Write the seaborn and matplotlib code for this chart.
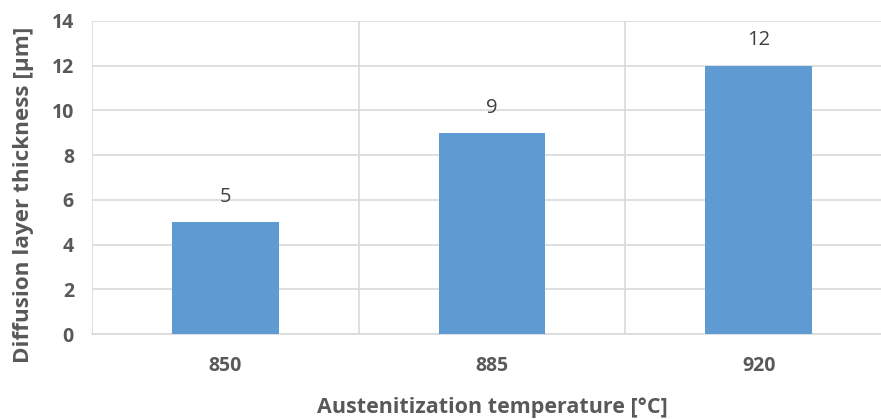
import matplotlib
matplotlib.use("Agg")
import matplotlib.pyplot as plt
import seaborn as sns
import pandas as pd

categories = ["850", "885", "920"]
values = [5, 9, 12]
yticks = [0, 2, 4, 6, 8, 10, 12, 14]

sns.set_theme(style="white")
plt.rcParams['font.family'] = ['Open Sans', 'DejaVu Sans']

df = pd.DataFrame({"temp": categories, "thick": values})

fig = plt.figure(figsize=(8.81, 4.19), dpi=100)
ax = fig.add_axes([92/881, 1 - 334/419, 800/881, (334-21)/419])

sns.barplot(data=df, x="temp", y="thick", color="#5E9BD3", width=0.4,
            saturation=1, linewidth=0, ax=ax, zorder=3)

ax.set_xlim(-0.5, 2.5)
ax.set_ylim(0, 14)
ax.set_yticks(yticks)
ax.set_yticklabels([str(t) for t in yticks])

grid_c = "#D9D9D9"
ax.yaxis.grid(True, color=grid_c, linewidth=1.2, zorder=0)
ax.set_xticks([-0.5, 0.5, 1.5, 2.5], minor=True)
ax.xaxis.grid(True, which="minor", color=grid_c, linewidth=1.2, zorder=0)
ax.tick_params(axis="x", which="minor", length=8, color=grid_c, width=1.2)
ax.tick_params(axis="x", which="major", length=0, pad=16)
ax.tick_params(axis="y", length=0, pad=13)

for s in ["top", "right", "left"]:
    ax.spines[s].set_visible(False)
ax.spines["bottom"].set_color(grid_c)
ax.spines["bottom"].set_linewidth(1.2)

for lbl in ax.get_xticklabels() + ax.get_yticklabels():
    lbl.set_fontsize(14)
    lbl.set_fontweight("bold")
    lbl.set_color("#595959")

for c in ax.containers:
    ax.bar_label(c, labels=[str(v) for v in values], padding=11,
                 fontsize=14.5, color="#404040")

ax.set_xlabel("Austenitization temperature [°C]", fontsize=15.5,
              fontweight="bold", color="#595959", labelpad=15)
ax.set_ylabel("Diffusion layer thickness [µm]", fontsize=16.2,
              fontweight="bold", color="#595959", va="center")
ax.yaxis.set_label_coords((24 - 92) / 800, (334 - 195) / 313)

fig.savefig("out.png", dpi=100)
